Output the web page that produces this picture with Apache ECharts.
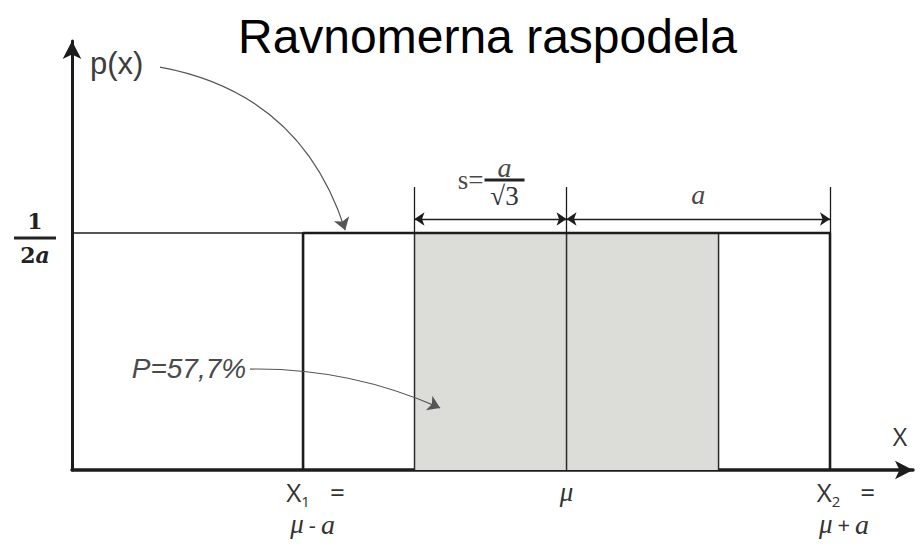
<!DOCTYPE html>
<html>
<head>
<meta charset="utf-8">
<script src="https://cdn.jsdelivr.net/npm/echarts@6/dist/echarts.min.js"></script>
<style>
  html, body { margin: 0; padding: 0; background: #ffffff; }
  #chart { width: 923px; height: 549px; }
</style>
</head>
<body>
<div id="chart"></div>
<script>
// Uniform (rectangular) distribution on [μ - a, μ + a], drawn with μ = 0 and a = 1.
const MU = 0;
const A = 1;
const DENSITY = 0.5;        // p(x) = 1/(2a)
const SIGMA = 0.577;        // s = a/√3, covers P = 57,7 %

// density outline p(x)
const densityX = [-1, -1, 1, 1];
const densityY = [0, 0.5, 0.5, 0];
// shaded band μ ± s
const bandX = [-0.577, -0.577, 0.577, 0.577];
const bandY = [0, 0.5, 0.5, 0];
// vertical line at the mean
const meanX = [0, 0];
const meanY = [0, 0.5];

// axis ticks and their labels
const xTickValues = [-1, 0, 1];
const xTickLabels = [
  '{sp1| }{x|X}{sub|1}{eq|=}\n{sp2| }{m|μ}{op|-}{a|a}',
  '{m|μ}',
  '{sp3| }{x|X}{sub|2}{eq|=}\n{sp4| }{m|μ}{op|+}{a|a}'
];
const yTickValues = [0.5];
const yTickLabels = ['{num|1}\n{bar| }\n{den|2}{denA|a}'];

const titleText = 'Ravnomerna raspodela';
const yName = 'p(x)';
const xName = 'X';
const probabilityText = 'P=57,7%';

// axis extents
const X_MIN = -1.877, X_MAX = 1.315, Y_MAX = 0.905;
const DIM_Y = 0.5295;     // height of the dimension arrows
const EXT_TOP = 0.597;    // top of the extension lines

const chart = echarts.init(document.getElementById('chart'), null, { renderer: 'svg' });

const ink = '#1c1c1c';
const note = '#4a4a4a';

const pair = (xs, ys) => xs.map((x, i) => [x, ys[i]]);

chart.setOption({
  animation: false,
  backgroundColor: '#ffffff',
  title: {
    text: titleText,
    left: 233,
    top: 7,
    textStyle: { fontFamily: 'Liberation Sans', fontSize: 48, fontWeight: 'normal', color: '#000000' }
  },
  grid: { left: 72, right: 10, top: 41, bottom: 79, containLabel: false },
  xAxis: {
    type: 'value',
    min: X_MIN,
    max: X_MAX,
    name: xName,
    nameLocation: 'end',
    nameGap: -13,
    nameTextStyle: {
      fontFamily: 'Open Sans', fontSize: 25, color: '#333333',
      align: 'center', verticalAlign: 'bottom', padding: [0, 0, 22, 0]
    },
    axisLine: {
      show: true, onZero: false,
      symbol: ['none', 'arrow'], symbolSize: [14, 18],
      lineStyle: { color: ink, width: 3.5 }
    },
    axisTick: { show: false },
    splitLine: { show: false },
    axisLabel: {
      show: true,
      customValues: xTickValues,
      margin: 6,
      formatter: function (v) {
        const i = xTickValues.indexOf(v);
        return i < 0 ? '' : xTickLabels[i];
      },
      rich: {
        sp1: { width: 25, align: 'center', lineHeight: 32 },
        sp2: { width: 19, align: 'center', lineHeight: 32 },
        sp3: { width: 32, align: 'center', lineHeight: 32 },
        sp4: { width: 28, align: 'center', lineHeight: 32 },
        x: { fontFamily: 'Open Sans', fontSize: 26, color: '#333333', lineHeight: 32, align: 'center' },
        sub: { fontFamily: 'Open Sans', fontSize: 15, color: '#333333', lineHeight: 14, verticalAlign: 'bottom', align: 'center' },
        eq: { fontFamily: 'Open Sans', fontSize: 26, color: '#333333', lineHeight: 32, padding: [0, 0, 0, 20], align: 'center' },
        m: { fontFamily: 'Liberation Serif', fontStyle: 'italic', fontSize: 27, color: '#333333', lineHeight: 32, align: 'center' },
        op: { fontFamily: 'Open Sans', fontSize: 22, color: '#333333', lineHeight: 32, padding: [0, 5, 0, 5], align: 'center' },
        a: { fontFamily: 'Liberation Serif', fontStyle: 'italic', fontSize: 28, color: '#333333', lineHeight: 32, align: 'center' }
      }
    }
  },
  yAxis: {
    type: 'value',
    min: 0,
    max: Y_MAX,
    name: yName,
    nameLocation: 'end',
    nameGap: -38,
    nameTextStyle: {
      fontFamily: 'Liberation Sans', fontSize: 31, color: '#3d3d3d',
      align: 'left', verticalAlign: 'bottom', padding: [0, 0, 0, 18]
    },
    axisLine: {
      show: true, onZero: false,
      symbol: ['none', 'arrow'], symbolSize: [14, 18],
      lineStyle: { color: ink, width: 3 }
    },
    axisTick: { show: false },
    splitLine: { show: false },
    axisLabel: {
      show: true,
      customValues: yTickValues,
      margin: 16,
      padding: [10, 0, 0, 0],
      formatter: function (v) {
        const i = yTickValues.indexOf(v);
        return i < 0 ? '' : yTickLabels[i];
      },
      rich: {
        num: { fontFamily: 'DejaVu Serif', fontWeight: 'bold', fontSize: 22, color: '#222222', lineHeight: 24, align: 'center' },
        bar: { width: 42, height: 3, lineHeight: 10, backgroundColor: '#222222', align: 'center' },
        den: { fontFamily: 'DejaVu Serif', fontWeight: 'bold', fontSize: 22, color: '#222222', lineHeight: 24, align: 'center' },
        denA: { fontFamily: 'DejaVu Serif', fontWeight: 'bold', fontStyle: 'italic', fontSize: 22, color: '#222222', lineHeight: 24, align: 'center' }
      }
    }
  },
  series: [
    {
      name: 'band',
      type: 'line',
      data: pair(bandX, bandY),
      symbol: 'none',
      z: 1,
      lineStyle: { color: '#2a2a2a', width: 1.5 },
      areaStyle: { color: '#dcdcd8', opacity: 1 }
    },
    {
      name: 'mean',
      type: 'line',
      data: pair(meanX, meanY),
      symbol: 'none',
      z: 2,
      lineStyle: { color: '#2a2a2a', width: 1.5 }
    },
    {
      name: 'level',
      type: 'line',
      data: [[X_MIN, DENSITY], [-A, DENSITY]],
      symbol: 'none',
      z: 2,
      lineStyle: { color: ink, width: 1.5 }
    },
    {
      name: 'density',
      type: 'line',
      data: pair(densityX, densityY),
      symbol: 'none',
      z: 3,
      lineStyle: { color: ink, width: 2.6 }
    },
    {
      name: 'extension',
      type: 'lines',
      coordinateSystem: 'cartesian2d',
      symbol: ['none', 'none'],
      z: 3,
      lineStyle: { color: ink, width: 1.3, opacity: 1 },
      data: [
        { coords: [[-SIGMA, DENSITY], [-SIGMA, EXT_TOP]] },
        { coords: [[MU, DENSITY], [MU, EXT_TOP]] },
        { coords: [[A, DENSITY], [A, EXT_TOP]] }
      ]
    },
    {
      name: 'dimension',
      type: 'lines',
      coordinateSystem: 'cartesian2d',
      symbol: ['arrow', 'arrow'],
      symbolSize: 10,
      z: 3,
      lineStyle: { color: ink, width: 1.3, opacity: 1 },
      label: { show: true, position: 'middle', distance: 10 },
      data: [
        {
          coords: [[-SIGMA, DIM_Y], [MU, DIM_Y]],
          label: {
            formatter: '{sp| }{num|a}\n{s|s=}{bar| }\n{sp| }{den|√3}',
            rich: {
              sp: { width: 28, align: 'center' },
              num: { width: 40, align: 'center', fontFamily: 'Liberation Serif', fontStyle: 'italic', fontSize: 28, color: note, lineHeight: 18 },
              s: { width: 28, align: 'center', fontFamily: 'Liberation Serif', fontSize: 27, color: note, lineHeight: 6 },
              bar: { width: 40, height: 3, lineHeight: 6, backgroundColor: '#222222', align: 'center' },
              den: { width: 40, align: 'center', fontFamily: 'Liberation Sans Narrow', fontSize: 27, color: '#333333', lineHeight: 26 }
            }
          }
        },
        {
          coords: [[MU, DIM_Y], [A, DIM_Y]],
          label: {
            formatter: '{it|a}',
            rich: {
              it: { fontFamily: 'Liberation Serif', fontStyle: 'italic', fontSize: 28, color: note }
            }
          }
        }
      ]
    },
    {
      name: 'notes',
      type: 'lines',
      coordinateSystem: 'cartesian2d',
      symbol: ['none', 'arrow'],
      symbolSize: 12,
      z: 4,
      lineStyle: { color: '#555555', width: 1.2, opacity: 1 },
      data: [
        {
          coords: [[-1.543, 0.850], [-0.840, 0.506]],
          lineStyle: { curveness: 0.3 }
        },
        {
          coords: [[-1.201, 0.213], [-0.480, 0.131]],
          lineStyle: { curveness: 0.11 },
          label: {
            show: true,
            position: 'start',
            distance: 4,
            formatter: probabilityText,
            fontFamily: 'Liberation Sans',
            fontStyle: 'italic',
            fontSize: 28,
            color: note
          }
        }
      ]
    }
  ]
});
</script>
</body>
</html>
